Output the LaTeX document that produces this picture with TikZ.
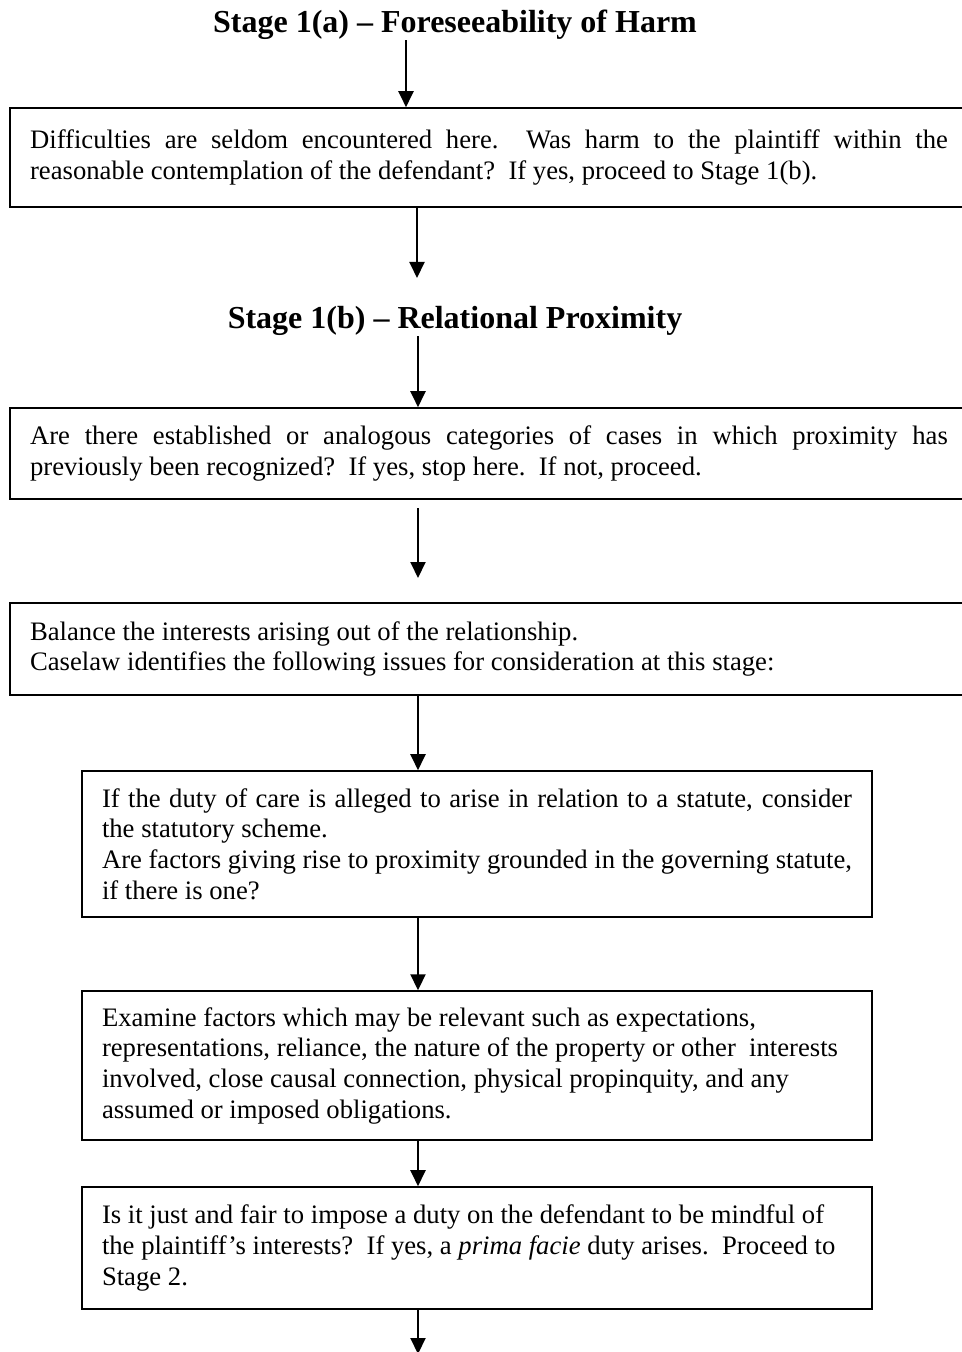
\documentclass[tikz,border=0pt]{standalone}
\usepackage{fontspec}
\setmainfont{Liberation Serif}
\usepackage[none]{hyphenat}
\usetikzlibrary{arrows.meta}

\tikzset{
  stagetitle/.style={inner sep=0pt,font=\fontsize{14.4}{16}\selectfont\bfseries},
  widebox/.style={draw,line width=0.7pt,text width=413pt,inner xsep=9pt,
    minimum width=431.1pt,align=justify,font=\fontsize{12}{13.8}\selectfont},
  issuebox/.style={draw,line width=0.7pt,text width=337.5pt,inner xsep=9pt,
    minimum width=355.5pt,align=flush left,font=\fontsize{12}{13.8}\selectfont},
  flow/.style={line width=0.9pt,-{Triangle[length=7.2pt,width=6.75pt]}}
}

\begin{document}
\begin{tikzpicture}[x=0.45pt,y=-0.45pt]
\useasboundingbox (0,0) rectangle (961,1352);

\coordinate (ax1) at (406,0);
\coordinate (ax) at (418,0);

%stage 1(a)
\node [stagetitle] (t1) at (455,25) {Stage 1(a) -- Foreseeability of Harm};
\node [widebox,minimum height=44.55pt] (box1) at (489,157.5)
  {Difficulties are seldom encountered here.\ \ Was harm to the plaintiff within the\linebreak
   reasonable contemplation of the defendant?\ \ If yes, proceed to Stage 1(b).};

%stage 1(b)
\node [stagetitle] (t2) at (455,321) {Stage 1(b) -- Relational Proximity};
\node [widebox,minimum height=40.95pt] (box2) at (489,453.5)
  {Are there established or analogous categories of cases in which proximity has\linebreak
   previously been recognized?\ \ If yes, stop here.\ \ If not, proceed.};
\node [widebox,align=flush left,minimum height=41.4pt] (box3) at (489,649)
  {Balance the interests arising out of the relationship.\\
   Caselaw identifies the following issues for consideration at this stage:};

%issues
\node [issuebox,align=justify,minimum height=65.7pt] (box4) at (477,844)
  {If the duty of care is alleged to arise in relation to a statute, consider\linebreak
   the statutory scheme.\\
   Are factors giving rise to proximity grounded in the governing statute,\linebreak
   if there is one?};
\node [issuebox,minimum height=67pt] (box5) at (477,1065.5)
  {Examine factors which may be relevant such as expectations,\\
   representations, reliance, the nature of the property or other\ \ interests\\
   involved, close causal connection, physical propinquity, and any\\
   assumed or imposed obligations.};
\node [issuebox,minimum height=54.9pt] (box6) at (477,1248)
  {Is it just and fair to impose a duty on the defendant to be mindful of\\
   the plaintiff's interests?\ \ If yes, a \emph{prima facie} duty arises.\ \ Proceed to\\
   Stage 2.};

\coordinate (end2) at (417,278);
\coordinate (start4) at (418,508);
\coordinate (end4) at (418,578);
\coordinate (end8) at (418,1354);

\draw[flow] (t1.south -| ax1) -- (box1.north -| ax1);
\draw[flow] (box1.south -| end2) -- (end2);
\draw[flow] (t2.south -| ax) -- (box2.north -| ax);
\draw[flow] (start4) -- (end4);
\draw[flow] (box3.south -| ax) -- (box4.north -| ax);
\draw[flow] (box4.south -| ax) -- (box5.north -| ax);
\draw[flow] (box5.south -| ax) -- (box6.north -| ax);
\draw[flow] (box6.south -| ax) -- (end8);

\end{tikzpicture}
\end{document}
